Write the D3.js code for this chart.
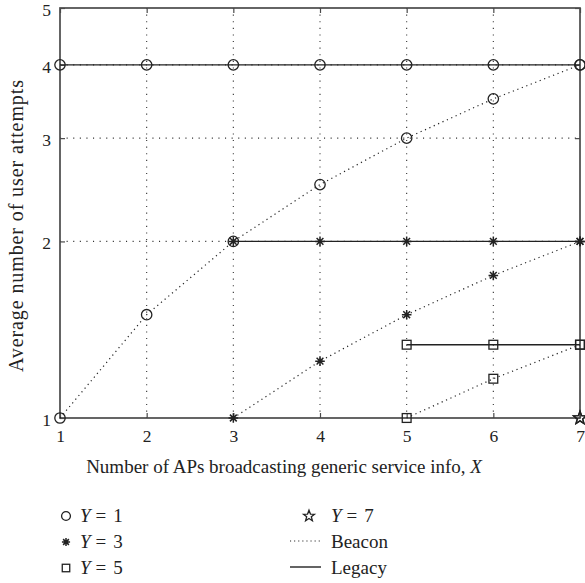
<!DOCTYPE html>
<html>
<head>
<meta charset="utf-8">
<script src="https://cdn.jsdelivr.net/npm/d3@7"></script>
<style>
  html, body { margin: 0; padding: 0; background: #fff; }
  svg text { font-family: "Liberation Serif", "DejaVu Serif", serif; fill: #222; }
</style>
</head>
<body>
<svg id="chart" width="585" height="583"></svg>
<script>
// Number of APs broadcasting generic service info
const xValues = [1, 2, 3, 4, 5, 6, 7];
const xTicks = [1, 2, 3, 4, 5, 6, 7];
const yTicks = [1, 2, 3, 4, 5];

// Average number of user attempts per Y, Beacon (dotted) and Legacy (solid)
const beaconY1 = [[1, 1], [2, 1.5], [3, 2], [4, 2.5], [5, 3], [6, 3.5], [7, 4]];
const legacyY1 = [[1, 4], [2, 4], [3, 4], [4, 4], [5, 4], [6, 4], [7, 4]];
const beaconY3 = [[3, 1], [4, 1.25], [5, 1.5], [6, 1.75], [7, 2]];
const legacyY3 = [[3, 2], [4, 2], [5, 2], [6, 2], [7, 2]];
const beaconY5 = [[5, 1], [6, 7 / 6], [7, 4 / 3]];
const legacyY5 = [[5, 4 / 3], [6, 4 / 3], [7, 4 / 3]];
const beaconY7 = [[7, 1]];
const legacyY7 = [[7, 1]];

const series = [
  { name: "Y1", marker: "circle", beacon: beaconY1, legacy: legacyY1 },
  { name: "Y3", marker: "asterisk", beacon: beaconY3, legacy: legacyY3 },
  { name: "Y5", marker: "square", beacon: beaconY5, legacy: legacyY5 },
  { name: "Y7", marker: "star", beacon: beaconY7, legacy: legacyY7 }
];

const svg = d3.select("#chart");
const pLeft = 60, pRight = 580, pTop = 8, pBottom = 418;
const x = d3.scaleLinear().domain([1, 7]).range([pLeft, pRight]);
const y = d3.scaleLog().domain([1, 5]).range([pBottom, pTop]);

const ink = "#222";
const frame = "#4a4a4a";

// grid
const grid = svg.append("g").attr("stroke", "#333").attr("stroke-width", 1.1)
  .attr("stroke-dasharray", "1.1,5.5");
xTicks.filter(d => d > 1 && d < 7).forEach(d => {
  grid.append("line").attr("x1", x(d)).attr("x2", x(d)).attr("y1", pTop).attr("y2", pBottom);
});
yTicks.filter(d => d > 1 && d < 5).forEach(d => {
  grid.append("line").attr("x1", pLeft).attr("x2", pRight).attr("y1", y(d)).attr("y2", y(d));
});

// axes with inward ticks, mirrored on top and right
const tickLen = 5;
const tickFont = 17.5;
svg.append("g").attr("transform", `translate(0,${pBottom})`)
  .call(d3.axisBottom(x).tickValues(xTicks).tickSize(-tickLen).tickFormat(d3.format("d")))
  .call(g => g.select(".domain").remove())
  .call(g => g.selectAll(".tick text").attr("y", 24).attr("dy", null));
svg.append("g").attr("transform", `translate(0,${pTop})`)
  .call(d3.axisTop(x).tickValues(xTicks).tickSize(-tickLen).tickFormat(""))
  .call(g => g.select(".domain").remove());
svg.append("g").attr("transform", `translate(${pLeft},0)`)
  .call(d3.axisLeft(y).tickValues(yTicks).tickSize(-tickLen).tickFormat(d3.format("d")))
  .call(g => g.select(".domain").remove())
  .call(g => g.selectAll(".tick text").attr("x", -9).attr("dy", "0.42em"));
svg.append("g").attr("transform", `translate(${pRight},0)`)
  .call(d3.axisRight(y).tickValues(yTicks).tickSize(-tickLen).tickFormat(""))
  .call(g => g.select(".domain").remove());
svg.selectAll(".tick line").attr("stroke", frame).attr("stroke-width", 1.2);
svg.selectAll(".tick text").attr("font-size", tickFont).attr("fill", "#222")
  .attr("font-family", "Liberation Serif, serif");

svg.append("rect").attr("x", pLeft).attr("y", pTop).attr("width", pRight - pLeft).attr("height", pBottom - pTop)
  .attr("fill", "none").attr("stroke", frame).attr("stroke-width", 1.7);

// lines
const line = d3.line().x(d => x(d[0])).y(d => y(d[1]));
series.forEach(s => {
  if (s.beacon.length > 1)
    svg.append("path").attr("d", line(s.beacon)).attr("fill", "none")
      .attr("stroke", ink).attr("stroke-width", 1.2).attr("stroke-dasharray", "1.2,3.6");
  if (s.legacy.length > 1)
    svg.append("path").attr("d", line(s.legacy)).attr("fill", "none")
      .attr("stroke", ink).attr("stroke-width", 1.4);
});

// marker shapes
function starPath(r) {
  const pts = [];
  for (let i = 0; i < 10; i++) {
    const a = -Math.PI / 2 + i * Math.PI / 5;
    const rr = i % 2 === 0 ? r : r * 0.42;
    pts.push([rr * Math.cos(a), rr * Math.sin(a)]);
  }
  return "M" + pts.map(p => p.join(",")).join("L") + "Z";
}
function drawMarker(g, kind, cx, cy, scale) {
  const k = scale || 1;
  const m = g.append("g").attr("transform", `translate(${cx},${cy})`)
    .attr("fill", "none").attr("stroke", ink).attr("stroke-width", 1.3);
  if (kind === "circle") {
    m.append("circle").attr("r", 5.2 * k);
  } else if (kind === "square") {
    const h = 4.4 * k;
    m.append("rect").attr("x", -h).attr("y", -h).attr("width", 2 * h).attr("height", 2 * h);
  } else if (kind === "asterisk") {
    const r = 4.8 * k;
    let d = "";
    for (let i = 0; i < 4; i++) {
      const a = i * Math.PI / 4;
      d += `M${-r * Math.cos(a)},${-r * Math.sin(a)}L${r * Math.cos(a)},${r * Math.sin(a)}`;
    }
    m.append("path").attr("d", d).attr("stroke-width", 1.5);
  } else if (kind === "star") {
    m.append("path").attr("d", starPath(6.8 * k));
  }
}

const marks = svg.append("g");
series.forEach(s => {
  s.beacon.forEach(d => drawMarker(marks, s.marker, x(d[0]), y(d[1])));
  s.legacy.forEach(d => drawMarker(marks, s.marker, x(d[0]), y(d[1])));
});

// axis titles
svg.append("text").attr("x", 284).attr("y", 473).attr("text-anchor", "middle")
  .attr("font-size", 19)
  .call(t => {
    t.append("tspan").text("Number of APs broadcasting generic service info, ");
    t.append("tspan").attr("font-style", "italic").text("X");
  });
svg.append("text").attr("transform", `translate(23,226) rotate(-90)`)
  .attr("text-anchor", "middle").attr("font-size", 20)
  .attr("textLength", 292).attr("lengthAdjust", "spacing")
  .text("Average number of user attempts");

// legend
const legendMarkers = [
  { marker: "circle", label: "1", mx: 66, tx: 80, yy: 516 },
  { marker: "asterisk", label: "3", mx: 66, tx: 80, yy: 542 },
  { marker: "square", label: "5", mx: 66, tx: 80, yy: 568 },
  { marker: "star", label: "7", mx: 309, tx: 331, yy: 516 }
];
const lg = svg.append("g");
legendMarkers.forEach(d => {
  drawMarker(lg, d.marker, d.mx, d.yy, 0.85);
  lg.append("text").attr("x", d.tx).attr("y", d.yy + 6).attr("font-size", 19)
    .call(t => {
      t.append("tspan").attr("font-style", "italic").text("Y");
      t.append("tspan").attr("dx", 5).text("=");
      t.append("tspan").attr("dx", 7).text(d.label);
    });
});
lg.append("line").attr("x1", 290).attr("x2", 321).attr("y1", 541).attr("y2", 541)
  .attr("stroke", ink).attr("stroke-width", 1.1).attr("stroke-dasharray", "1.1,3");
lg.append("text").attr("x", 331).attr("y", 548).attr("font-size", 19).text("Beacon");
lg.append("line").attr("x1", 290).attr("x2", 321).attr("y1", 567).attr("y2", 567)
  .attr("stroke", ink).attr("stroke-width", 1.4);
lg.append("text").attr("x", 331).attr("y", 574).attr("font-size", 19).text("Legacy");
</script>
</body>
</html>
